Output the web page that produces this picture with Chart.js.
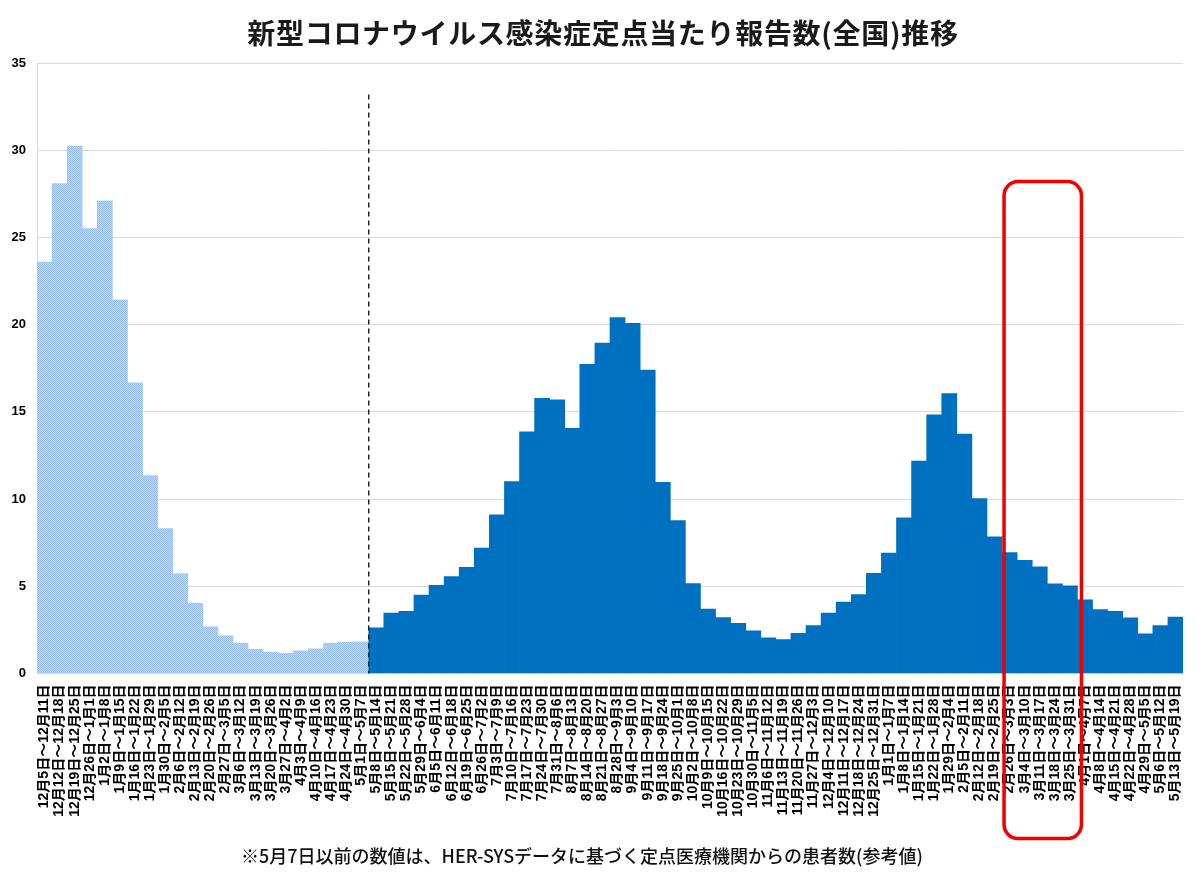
<!DOCTYPE html>
<html lang="ja">
<head>
<meta charset="utf-8">
<script src="https://cdn.jsdelivr.net/npm/chart.js@4.4.1/dist/chart.umd.min.js"></script>
<style>
    html, body { margin: 0; padding: 0; background: #fff; }
    #wrap { position: relative; width: 1200px; height: 873px; }
    #title {
        position: absolute; left: 0; top: 12px; width: 1206px;
        text-align: center; font-family: "Noto Sans CJK JP", sans-serif;
        font-weight: 700; font-size: 28px; line-height: 40px; color: #1a1a1a;
        letter-spacing: 0.7px;
    }
    #note {
        position: absolute; left: 0; top: 841px; width: 1164px;
        text-align: center; font-family: "Noto Sans CJK JP", sans-serif;
        font-weight: 500; font-size: 18px; line-height: 28px; color: #111;
    }
</style>
</head>
<body>
<div id="wrap">
    <canvas id="myChart" width="1200" height="873"></canvas>
    <div id="title">新型コロナウイルス感染症定点当たり報告数(全国)推移</div>
    <div id="note">※5月7日以前の数値は、HER-SYSデータに基づく定点医療機関からの患者数(参考値)</div>
</div>
<script>
// 5月7日以前（HER-SYS参考値）
var earlyLabels = ['12月5日～12月11日', '12月12日～12月18日', '12月19日～12月25日', '12月26日～1月1日',
    '1月2日～1月8日', '1月9日～1月15日', '1月16日～1月22日', '1月23日～1月29日', '1月30日～2月5日',
    '2月6日～2月12日', '2月13日～2月19日', '2月20日～2月26日', '2月27日～3月5日', '3月6日～3月12日',
    '3月13日～3月19日', '3月20日～3月26日', '3月27日～4月2日', '4月3日～4月9日', '4月10日～4月16日',
    '4月17日～4月23日', '4月24日～4月30日', '5月1日～5月7日'];
var earlyValues = [23.59, 28.09, 30.24, 25.51, 27.10, 21.42, 16.67, 11.34, 8.31, 5.73, 4.03,
    2.67, 2.16, 1.73, 1.38, 1.23, 1.15, 1.30, 1.42, 1.73, 1.80, 1.82];

// 5月8日以降（定点把握）
var laterLabels = ['5月8日～5月14日', '5月15日～5月21日', '5月22日～5月28日', '5月29日～6月4日',
    '6月5日～6月11日', '6月12日～6月18日', '6月19日～6月25日', '6月26日～7月2日', '7月3日～7月9日',
    '7月10日～7月16日', '7月17日～7月23日', '7月24日～7月30日', '7月31日～8月6日', '8月7日～8月13日',
    '8月14日～8月20日', '8月21日～8月27日', '8月28日～9月3日', '9月4日～9月10日', '9月11日～9月17日',
    '9月18日～9月24日', '9月25日～10月1日', '10月2日～10月8日', '10月9日～10月15日', '10月16日～10月22日',
    '10月23日～10月29日', '10月30日～11月5日', '11月6日～11月12日', '11月13日～11月19日', '11月20日～11月26日',
    '11月27日～12月3日', '12月4日～12月10日', '12月11日～12月17日', '12月18日～12月24日', '12月25日～12月31日',
    '1月1日～1月7日', '1月8日～1月14日', '1月15日～1月21日', '1月22日～1月28日', '1月29日～2月4日',
    '2月5日～2月11日', '2月12日～2月18日', '2月19日～2月25日', '2月26日～3月3日', '3月4日～3月10日',
    '3月11日～3月17日', '3月18日～3月24日', '3月25日～3月31日', '4月1日～4月7日', '4月8日～4月14日',
    '4月15日～4月21日', '4月22日～4月28日', '4月29日～5月5日', '5月6日～5月12日', '5月13日～5月19日'];
var laterValues = [2.62, 3.47, 3.57, 4.49, 5.06, 5.55, 6.09, 7.19, 9.09, 11.00, 13.86, 15.78, 15.69,
    14.05, 17.72, 18.94, 20.41, 20.07, 17.40, 10.96, 8.77, 5.15, 3.69, 3.21, 2.87, 2.45, 2.05, 1.95,
    2.30, 2.75, 3.47, 4.09, 4.52, 5.74, 6.90, 8.93, 12.18, 14.83, 16.05, 13.72, 10.03, 7.84, 6.93,
    6.49, 6.11, 5.14, 5.02, 4.22, 3.67, 3.57, 3.19, 2.27, 2.75, 3.23];

var yTicks = [0, 5, 10, 15, 20, 25, 30, 35];

// 赤枠で囲む週
var highlightFrom = '2月26日～3月3日';
var highlightTo = '3月25日～3月31日';

var labels = earlyLabels.concat(laterLabels);
var values = earlyValues.concat(laterValues);

// 参考値の棒はハッチング
function makeHatch() {
    var c = document.createElement('canvas');
    c.width = 4;
    c.height = 4;
    var g = c.getContext('2d');
    g.fillStyle = '#98bee8';
    g.fillRect(0, 0, 4, 4);
    g.fillStyle = '#bdd6f2';
    for (var i = 0; i < 4; i++) {
        g.fillRect(i, (3 - i), 1, 1);
        g.fillRect(i, (5 - i) % 4, 1, 1);
    }
    return g.createPattern(c, 'repeat');
}

var hatch = makeHatch();
var colors = values.map(function (v, i) {
    return i < earlyLabels.length ? hatch : '#0070c0';
});

var labelFont = 'bold 14px "Liberation Sans", "Noto Sans CJK JP", sans-serif';

var marks = {
    id: 'marks',
    afterDatasetsDraw: function (chart) {
        var x = chart.scales.x, y = chart.scales.y, ctx = chart.ctx;
        var n = earlyLabels.length;
        var xd = (x.getPixelForValue(n - 1) + x.getPixelForValue(n)) / 2;
        ctx.save();
        ctx.strokeStyle = '#222';
        ctx.lineWidth = 1.5;
        ctx.setLineDash([5, 4]);
        ctx.beginPath();
        ctx.moveTo(xd, y.getPixelForValue(33.2));
        ctx.lineTo(xd, y.getPixelForValue(0));
        ctx.stroke();
        ctx.restore();
    },
    afterDraw: function (chart) {
        var x = chart.scales.x, y = chart.scales.y, ctx = chart.ctx;
        var base = chart.chartArea.bottom + 11;

        // 週ラベル（下から上へ読む）
        ctx.save();
        ctx.font = labelFont;
        ctx.fillStyle = '#000';
        ctx.textAlign = 'right';
        ctx.textBaseline = 'middle';
        labels.forEach(function (lab, i) {
            ctx.save();
            ctx.translate(x.getPixelForValue(i), base);
            ctx.rotate(-Math.PI / 2);
            ctx.fillText(lab, 0, 0);
            ctx.restore();
        });
        ctx.restore();

        var i0 = labels.indexOf(highlightFrom), i1 = labels.indexOf(highlightTo);
        var half = (x.getPixelForValue(1) - x.getPixelForValue(0)) / 2;
        var left = x.getPixelForValue(i0) - half + 2;
        var right = x.getPixelForValue(i1) + half + 4;
        var top = y.getPixelForValue(28.2);
        var bottom = chart.chartArea.bottom + 165;
        ctx.save();
        ctx.strokeStyle = '#f00000';
        ctx.lineWidth = 3.5;
        ctx.beginPath();
        ctx.roundRect(left, top, right - left, bottom - top, 14);
        ctx.stroke();
        ctx.restore();
    }
};

var ctx = document.getElementById('myChart');
var myChart = new Chart(ctx, {
    type: 'bar',
    data: {
        labels: labels,
        datasets: [{
            data: values,
            backgroundColor: colors,
            borderWidth: 0,
            categoryPercentage: 1.0,
            barPercentage: 1.0
        }]
    },
    options: {
        responsive: false,
        animation: false,
        layout: { padding: { top: 63, right: 17, left: 0, bottom: 0 } },
        plugins: {
            legend: { display: false },
            tooltip: { enabled: false }
        },
        scales: {
            x: {
                grid: { display: false, drawTicks: false },
                border: { color: '#d9d9d9' },
                ticks: { display: false },
                afterFit: function (scale) { scale.height = 199.5; }
            },
            y: {
                min: 0,
                max: 35,
                afterBuildTicks: function (scale) {
                    scale.ticks = yTicks.map(function (v) { return { value: v }; });
                },
                grid: { color: '#d9d9d9', drawTicks: false },
                border: { color: '#d9d9d9' },
                ticks: {
                    padding: 11,
                    color: '#000',
                    font: { family: '"Liberation Sans", sans-serif', size: 13, weight: 'bold' }
                },
                afterFit: function (scale) { scale.width = 37; }
            }
        }
    },
    plugins: [marks]
});
</script>
</body>
</html>
